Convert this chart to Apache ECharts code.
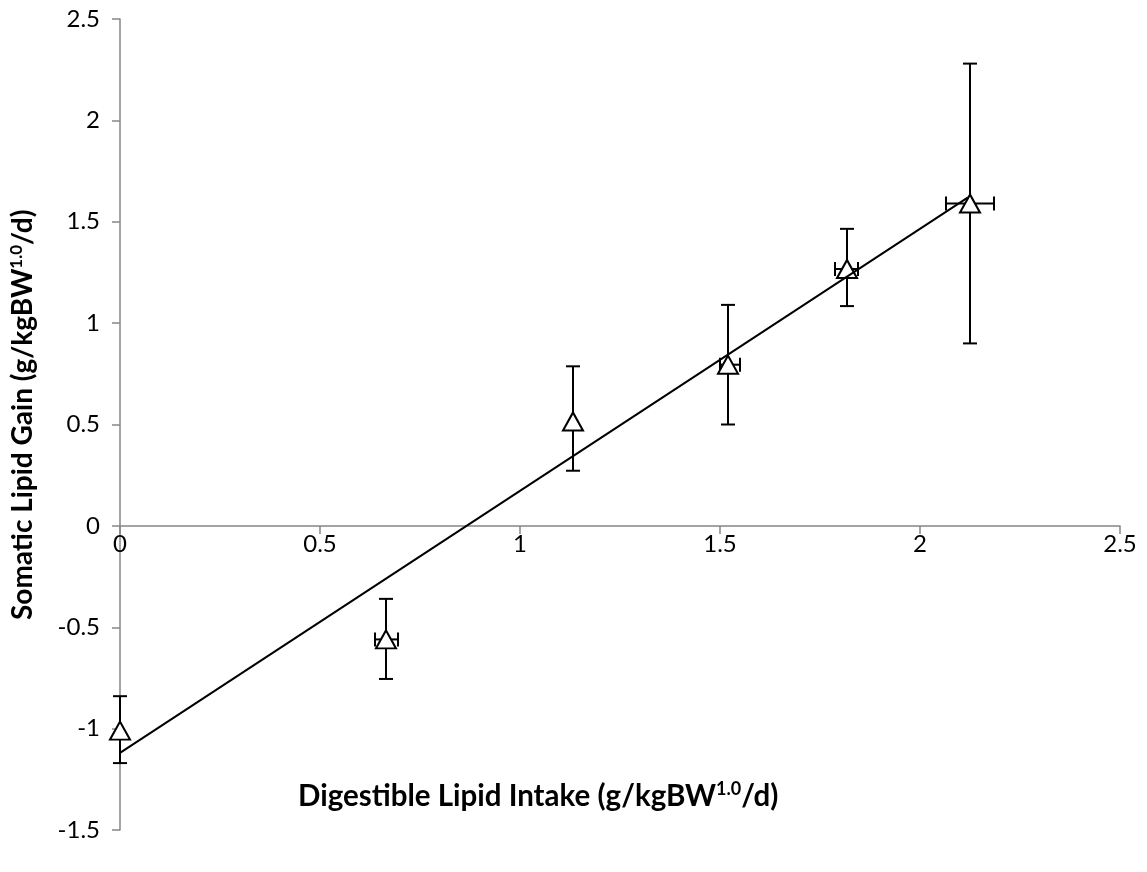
<!DOCTYPE html>
<html>
<head>
<meta charset="utf-8">
<script src="https://cdn.jsdelivr.net/npm/echarts@6/dist/echarts.min.js"></script>
<style>
  html, body { margin: 0; padding: 0; background: #fff; }
  #chart { width: 1147px; height: 872px; }
</style>
</head>
<body>
<div id="chart"></div>
<script>
// lipid intake vs somatic lipid gain
const intake = [0, 0.665, 1.1325, 1.52, 1.8175, 2.125]
const gain = [-1.01, -0.56, 0.515, 0.795, 1.267, 1.59]
const intakeLo = [0, 0.6375, 1.1325, 1.50, 1.7875, 2.065]
const intakeHi = [0, 0.695, 1.1325, 1.55, 1.845, 2.185]
const gainLo = [-1.17, -0.755, 0.272, 0.50, 1.084, 0.90]
const gainHi = [-0.84, -0.36, 0.787, 1.09, 1.465, 2.28]

// fitted line endpoints
const trendX = [0, 2.12]
const trendY = [-1.12, 1.62]

const xTicks = { min: 0, max: 2.5, interval: 0.5 }
const yTicks = { min: -1.5, max: 2.5, interval: 0.5 }

const FONT = 'Lato'
const chart = echarts.init(document.getElementById('chart'))

const errData = intake.map((x, i) => [x, gain[i], intakeLo[i], intakeHi[i], gainLo[i], gainHi[i]])

function renderErr(params, api) {
  const x = api.value(0), y = api.value(1)
  const p = api.coord([x, y])
  const lo = api.coord([x, api.value(4)])
  const hi = api.coord([x, api.value(5)])
  const xl = api.coord([api.value(2), y])
  const xh = api.coord([api.value(3), y])
  const cap = 7
  const style = { stroke: '#000', lineWidth: 2 }
  const kids = [
    { type: 'line', shape: { x1: p[0], y1: lo[1], x2: p[0], y2: hi[1] }, style },
    { type: 'line', shape: { x1: p[0] - cap, y1: lo[1], x2: p[0] + cap, y2: lo[1] }, style },
    { type: 'line', shape: { x1: p[0] - cap, y1: hi[1], x2: p[0] + cap, y2: hi[1] }, style },
  ]
  if (xh[0] - xl[0] > 2) {
    kids.push(
      { type: 'line', shape: { x1: xl[0], y1: p[1], x2: xh[0], y2: p[1] }, style },
      { type: 'line', shape: { x1: xl[0], y1: p[1] - cap, x2: xl[0], y2: p[1] + cap }, style },
      { type: 'line', shape: { x1: xh[0], y1: p[1] - cap, x2: xh[0], y2: p[1] + cap }, style }
    )
  }
  return { type: 'group', children: kids }
}

function titleRich(size) {
  return {
    b: { fontFamily: FONT, fontWeight: 'bold', fontSize: size, color: '#000' },
    s: { fontFamily: FONT, fontWeight: 'bold', fontSize: Math.round(size * 0.6), color: '#000', verticalAlign: 'top', padding: [0, 0, Math.round(size * 0.48), 0] },
  }
}

chart.setOption({
  animation: false,
  grid: { left: 120, right: 27, top: 19, bottom: 42 },
  xAxis: {
    type: 'value',
    ...xTicks,
    offset: -304,
    axisLine: { onZero: false, lineStyle: { color: '#868686', width: 1.5 } },
    axisTick: { show: true, length: 8, lineStyle: { color: '#868686', width: 1.5 } },
    axisLabel: { fontFamily: FONT, fontSize: 24, color: '#000', margin: 6 },
    splitLine: { show: false },
  },
  yAxis: {
    type: 'value',
    ...yTicks,
    axisLine: { show: true, lineStyle: { color: '#868686', width: 1.5 } },
    axisTick: { show: true, length: 8, lineStyle: { color: '#868686', width: 1.5 } },
    axisLabel: { fontFamily: FONT, fontSize: 24, color: '#000', margin: 20 },
    splitLine: { show: false },
  },
  graphic: [
    {
      type: 'text', left: 298, top: 780,
      style: { text: '{b|Digestible Lipid Intake (g/kgBW}{s|1.0}{b|/d)}', rich: titleRich(29.5) },
    },
    {
      type: 'text', x: 8, y: 620, rotation: Math.PI / 2,
      style: { text: '{b|Somatic Lipid Gain (g/kgBW}{s|1.0}{b|/d)}', rich: titleRich(28) },
    },
  ],
  series: [
    {
      type: 'custom',
      renderItem: renderErr,
      data: errData,
      encode: { x: 0, y: 1 },
      z: 2,
    },
    {
      type: 'scatter',
      data: intake.map((x, i) => [x, gain[i]]),
      symbol: 'triangle',
      symbolSize: [20, 18],
      itemStyle: { color: '#fff', opacity: 1, borderColor: '#000', borderWidth: 2 },
      z: 3,
    },
    {
      type: 'line',
      data: trendX.map((x, i) => [x, trendY[i]]),
      showSymbol: false,
      lineStyle: { color: '#000', width: 2 },
      z: 4,
    },
  ],
})
</script>
</body>
</html>
